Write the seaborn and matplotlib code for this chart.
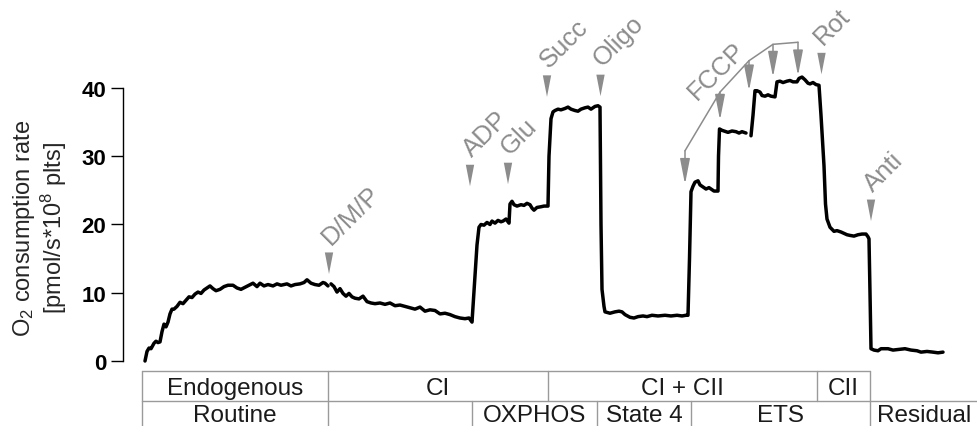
import numpy as np
import pandas as pd
import matplotlib.pyplot as plt
import seaborn as sns

# ---------------------------------------------------------------------
# O2 flux trace (time in arbitrary minutes), one list per unbroken piece
# ---------------------------------------------------------------------
t_routine = [0.0, 0.2, 0.4, 0.6, 0.9, 1.1, 1.3, 1.5, 1.7, 1.9,
             2.1, 2.3, 2.5, 2.7, 2.9, 3.2, 3.5, 3.8, 4.1, 4.4,
             4.7, 5.0, 5.3, 5.6, 5.9, 6.2, 6.5, 6.8, 7.1, 7.5,
             7.9, 8.3, 8.8, 9.2, 9.6, 10.0, 10.4, 10.8, 11.2, 11.5,
             11.9, 12.3, 12.8, 13.2, 13.6, 14.2, 14.6, 15.0, 15.5, 15.9,
             16.2, 16.6, 17.0, 17.4, 17.8, 18.0, 18.3]
o2_routine = [0.0, 1.4, 1.9, 1.8, 2.6, 2.9, 2.7, 2.8, 4.3, 5.4,
              5.0, 5.7, 6.9, 7.6, 7.6, 8.0, 8.6, 8.4, 8.9, 9.4,
              9.3, 9.8, 10.1, 9.9, 10.4, 10.7, 11.0, 10.6, 10.3, 10.5,
              10.9, 11.1, 11.1, 10.7, 10.5, 10.8, 11.1, 11.4, 10.9, 11.4,
              11.0, 11.2, 11.0, 11.3, 11.1, 11.3, 11.0, 11.2, 11.3, 11.5,
              11.9, 11.4, 11.2, 11.1, 11.5, 11.4, 11.0]

t_coupled = [18.6, 18.9, 19.2, 19.5, 19.8, 20.1, 20.4, 20.7, 21.0, 21.4,
             21.8, 22.2, 22.6, 23.0, 23.5, 24.0, 24.5, 25.0, 25.5, 26.0,
             26.5, 27.0, 27.5, 28.0, 28.5, 29.0, 29.5, 30.0, 30.5, 31.0,
             31.5, 32.0, 32.4, 32.7, 33.2, 33.4, 33.6, 33.9, 34.2, 34.5,
             34.7, 35.0, 35.3, 35.6, 35.8, 36.1, 36.4, 36.5, 36.7, 36.9,
             37.2, 37.6, 37.9, 38.2, 38.5, 38.7, 38.9, 39.2, 39.6, 39.9,
             40.3, 40.4, 40.6, 40.8, 41.0, 41.3, 41.6, 42.0, 42.3, 42.6,
             43.0, 43.3, 43.6, 44.0, 44.3, 44.6, 45.0, 45.3, 45.5, 45.6,
             45.7, 45.9, 46.0, 46.5, 47.0, 47.4, 47.7, 48.0, 48.5, 48.9,
             49.3, 49.8, 50.2, 50.7, 51.3, 52.0, 52.6, 53.2, 53.7, 54.1,
             54.3, 54.45, 54.6, 54.8, 55.0, 55.3, 55.5, 55.8, 56.1, 56.4,
             56.6, 56.9, 57.3, 57.35, 57.45, 57.7, 57.9, 58.3, 58.7, 59.1,
             59.4, 59.7, 60.1]
o2_coupled = [11.3, 10.9, 10.1, 10.6, 9.9, 9.5, 9.9, 9.4, 9.2, 9.1,
              9.5, 8.7, 8.5, 8.4, 8.5, 8.3, 8.5, 8.1, 8.2, 8.0,
              7.8, 7.6, 7.9, 7.3, 7.5, 7.4, 6.9, 7.0, 6.8, 6.5,
              6.3, 6.2, 6.3, 5.7, 17.0, 19.6, 20.0, 19.9, 20.3, 20.0,
              20.5, 20.2, 20.6, 20.4, 20.5, 20.8, 20.2, 23.0, 23.4, 22.9,
              22.7, 22.9, 22.8, 23.1, 22.9, 22.4, 22.1, 22.5, 22.6, 22.7,
              22.7, 30.0, 35.5, 36.5, 36.7, 36.9, 36.8, 37.0, 37.2, 36.9,
              36.7, 36.6, 36.9, 37.1, 37.2, 36.9, 37.3, 37.4, 37.2, 20.0,
              10.5, 8.0, 7.2, 7.0, 7.2, 7.3, 7.2, 6.8, 6.4, 6.3,
              6.5, 6.6, 6.5, 6.7, 6.6, 6.7, 6.6, 6.7, 6.6, 6.7,
              6.7, 15.0, 24.8, 25.6, 26.2, 26.4, 25.8, 25.5, 25.2, 25.4,
              25.2, 24.9, 24.9, 30.0, 34.0, 33.8, 33.7, 33.5, 33.7, 33.6,
              33.4, 33.6, 33.4]

t_uncoupled = [60.6, 60.8, 61.0, 61.2, 61.5, 61.7, 62.0, 62.3, 62.6, 63.0,
               63.2, 63.5, 63.8, 64.2, 64.5, 64.8, 65.2, 65.4, 65.7, 66.0,
               66.3, 66.5, 66.8, 67.1, 67.4, 67.6, 67.9, 68.05, 68.2, 68.5,
               68.9, 69.2, 69.6, 69.9, 70.2, 70.5, 70.9, 71.3, 71.7, 72.1,
               72.3, 72.4, 72.5, 72.6, 72.9, 73.3, 73.6, 74.3, 74.8, 75.4,
               76.0, 76.6, 77.2, 77.6, 78.2, 78.8, 79.3, 79.8]
o2_uncoupled = [33.0, 36.0, 39.6, 39.6, 39.4, 38.9, 38.8, 39.0, 38.8, 38.7,
                40.9, 41.0, 40.8, 41.0, 41.1, 40.9, 40.9, 41.4, 41.6, 41.2,
                40.7, 40.6, 40.8, 40.5, 40.4, 36.0, 28.6, 23.0, 20.8, 19.6,
                19.0, 19.1, 18.9, 18.7, 18.5, 18.4, 18.3, 18.5, 18.6, 18.6,
                18.2, 17.9, 10.0, 1.8, 1.6, 1.5, 1.8, 1.8, 1.6, 1.7,
                1.8, 1.6, 1.5, 1.3, 1.4, 1.3, 1.2, 1.3]

# injections: time and flux level at the arrow tip
inj_labels = ['D/M/P', 'ADP', 'Glu', 'Succ', 'Oligo', 'Rot', 'Anti']
inj_times = [18.4, 32.5, 36.3, 40.2, 45.55, 67.65, 72.6]
inj_tips = [12.75, 25.6, 25.9, 38.7, 38.8, 42.0, 20.5]

# FCCP titration steps
fccp_times = [54.0, 57.5, 60.4, 62.8, 65.3]
fccp_tips = [25.9, 35.3, 39.6, 41.6, 41.8]
fccp_stem_tops = [30.8, 39.4, 44.0, 46.4, 46.7]

# protocol table below the trace (cell edges in time)
substrate_labels = ['Endogenous', 'CI', 'CI + CII', 'CII']
substrate_edges = [-0.3, 18.3, 40.3, 67.2, 72.5]
state_labels = ['Routine', '', 'OXPHOS', 'State 4', 'ETS', 'Residual']
state_edges = [-0.3, 18.3, 32.7, 45.2, 54.6, 72.5, 83.3]

# ---------------------------------------------------------------------
sns.set_theme(style='white')
plt.rcParams['font.family'] = ['Liberation Sans', 'DejaVu Sans']
plt.rcParams.update({
    'mathtext.fontset': 'custom',
    'mathtext.rm': 'Liberation Sans',
    'mathtext.it': 'Liberation Sans:italic',
    'mathtext.bf': 'Liberation Sans:bold',
})

gray = '#8c8c8c'
table_gray = '#9a9a9a'
label_size = 18.5

trace = pd.concat([
    pd.DataFrame({'time': t_routine, 'o2': o2_routine, 'piece': 0}),
    pd.DataFrame({'time': t_coupled, 'o2': o2_coupled, 'piece': 1}),
    pd.DataFrame({'time': t_uncoupled, 'o2': o2_uncoupled, 'piece': 2}),
], ignore_index=True)

fig = plt.figure(figsize=(9.78, 4.27), dpi=100)
ax = fig.add_axes([123 / 978, 65 / 427, 855 / 978, 362 / 427])

sns.lineplot(data=trace, x='time', y='o2', units='piece', estimator=None,
             sort=False, color='black', linewidth=2.5, ax=ax, legend=False)
for line in ax.lines:
    line.set_clip_on(False)

ax.set_xlim(-2.2, 83.3)
ax.set_ylim(0, 53.04)

# axes styling
sns.despine(ax=ax, bottom=True)
ax.spines['left'].set_bounds(0, 40)
ax.spines['left'].set_color('black')
ax.spines['left'].set_linewidth(1.0)
ax.set_xticks([])
ax.set_yticks([0, 10, 20, 30, 40])
ax.tick_params(axis='y', left=True, length=9, width=1.0, pad=3,
               labelsize=16, color='black', labelcolor='black')
for lbl in ax.get_yticklabels():
    lbl.set_fontweight('bold')
ax.set_xlabel('')
ax.set_ylabel('O$_2$ consumption rate\n[pmol/s*10$^8$ plts]', fontsize=17,
              linespacing=1.1)
ax.yaxis.set_label_coords(-0.063, 0.37)

# injection arrows + labels
head_kw = dict(arrowstyle='-|>,head_length=1.55,head_width=0.3', color=gray,
               lw=0, shrinkA=0, shrinkB=0, mutation_scale=10)
for lab, t, tip in zip(inj_labels, inj_times, inj_tips):
    ax.annotate('', xy=(t, tip), xytext=(0, 16), textcoords='offset points',
                arrowprops=head_kw, annotation_clip=False)
    ax.annotate(lab, xy=(t, tip), xytext=(-8.5, 18.5), textcoords='offset points',
                rotation=45, ha='left', va='bottom', color=gray,
                fontsize=label_size, annotation_clip=False)

# FCCP titration
stem_kw = dict(arrowstyle='-|>,head_length=1.55,head_width=0.3', color=gray,
               lw=1.1, shrinkA=0, shrinkB=0, mutation_scale=10)
ax.plot(fccp_times, fccp_stem_tops, color=gray, lw=1.1, clip_on=False)
for t, tip, top in zip(fccp_times, fccp_tips, fccp_stem_tops):
    ax.annotate('', xy=(t, tip), xytext=(t, top), arrowprops=stem_kw,
                annotation_clip=False)
ax.annotate('FCCP', xy=(fccp_times[0], fccp_stem_tops[0]), xytext=(-1, 34),
            textcoords='offset points', rotation=45, ha='left', va='bottom',
            color=gray, fontsize=label_size, annotation_clip=False)

# protocol table
row_top, row_mid, row_bot = -1.47, -5.86, -10.3
base_1, base_2 = -4.84, -8.79
line_kw = dict(color=table_gray, lw=1.0, clip_on=False)
ax.plot([substrate_edges[0], substrate_edges[-1]], [row_top, row_top], **line_kw)
ax.plot([state_edges[0], state_edges[-1]], [row_mid, row_mid], **line_kw)
for x in substrate_edges:
    ax.plot([x, x], [row_top, row_mid], **line_kw)
for x in state_edges[:-1]:
    ax.plot([x, x], [row_mid, row_bot], **line_kw)
for lab, a, b in zip(substrate_labels, substrate_edges[:-1], substrate_edges[1:]):
    ax.text((a + b) / 2, base_1, lab, ha='center', va='baseline',
            fontsize=17.5, color='#1a1a1a')
for lab, a, b in zip(state_labels, state_edges[:-1], state_edges[1:]):
    ax.text((a + b) / 2, base_2, lab, ha='center', va='baseline',
            fontsize=17.5, color='#1a1a1a')

fig.savefig('out.png', dpi=100)
plt.close(fig)
